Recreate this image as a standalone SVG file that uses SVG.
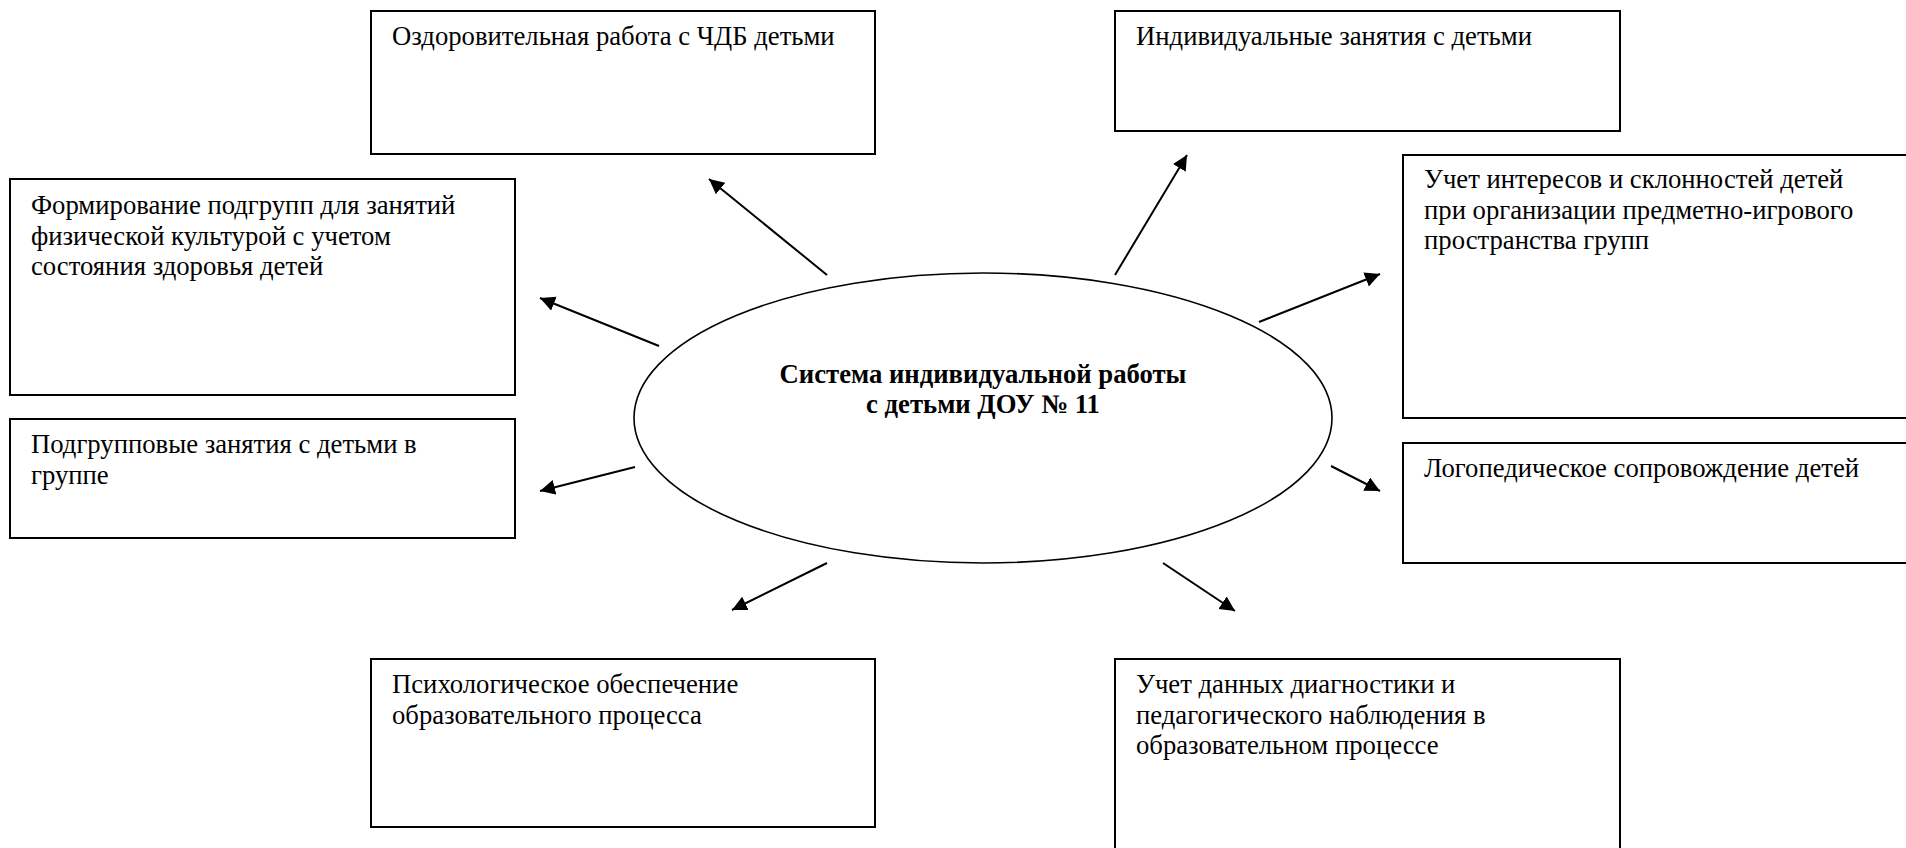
<svg xmlns="http://www.w3.org/2000/svg" width="1906" height="848" viewBox="0 0 1906 848">
  <style>
    .box { fill: #ffffff; stroke: #000000; stroke-width: 2; }
    .lbl { font-family: "Liberation Serif", "Times New Roman", serif; font-size: 26.7px; fill: #000000; }
    .title { font-family: "Liberation Serif", "Times New Roman", serif; font-size: 26.7px; font-weight: bold; fill: #000000; text-anchor: middle; }
    .conn { stroke: #000000; stroke-width: 2; fill: none; marker-end: url(#arrow); }
  </style>
  <defs>
    <marker id="arrow" markerUnits="userSpaceOnUse" markerWidth="16" markerHeight="16" refX="15" refY="7.5" orient="auto" viewBox="0 0 16 16">
      <path d="M0,0 L15,7.5 L0,15 z" fill="#000000"/>
    </marker>
  </defs>
  <rect width="1906" height="848" fill="#ffffff"/>

  <g id="center">
    <ellipse cx="983" cy="418" rx="349" ry="145" fill="#ffffff" stroke="#000000" stroke-width="1.6"/>
    <text class="title" x="983" y="383">Система индивидуальной работы</text>
    <text class="title" x="983" y="413">с детьми ДОУ № 11</text>
  </g>

  <g id="box-health">
    <rect class="box" x="371" y="11" width="504" height="143"/>
    <text class="lbl" x="392" y="45">Оздоровительная работа с ЧДБ детьми</text>
  </g>

  <g id="box-individual">
    <rect class="box" x="1115" y="11" width="505" height="120"/>
    <text class="lbl" x="1136" y="45">Индивидуальные занятия с детьми</text>
  </g>

  <g id="box-subgroups-pe">
    <rect class="box" x="10" y="179" width="505" height="216"/>
    <text class="lbl" x="31" y="214">Формирование подгрупп для занятий</text>
    <text class="lbl" x="31" y="244.5">физической культурой с учетом</text>
    <text class="lbl" x="31" y="275">состояния здоровья детей</text>
  </g>

  <g id="box-subgroup-lessons">
    <rect class="box" x="10" y="419" width="505" height="119"/>
    <text class="lbl" x="31" y="453">Подгрупповые занятия с детьми в</text>
    <text class="lbl" x="31" y="484">группе</text>
  </g>

  <g id="box-interests">
    <rect class="box" x="1403" y="155" width="530" height="263"/>
    <text class="lbl" x="1424" y="188">Учет интересов и склонностей детей</text>
    <text class="lbl" x="1424" y="218.5">при организации предметно-игрового</text>
    <text class="lbl" x="1424" y="249">пространства групп</text>
  </g>

  <g id="box-speech">
    <rect class="box" x="1403" y="443" width="530" height="120"/>
    <text class="lbl" x="1424" y="477">Логопедическое сопровождение детей</text>
  </g>

  <g id="box-psych">
    <rect class="box" x="371" y="659" width="504" height="168"/>
    <text class="lbl" x="392" y="693">Психологическое обеспечение</text>
    <text class="lbl" x="392" y="724">образовательного процесса</text>
  </g>

  <g id="box-diagnostics">
    <rect class="box" x="1115" y="659" width="505" height="240"/>
    <text class="lbl" x="1136" y="693">Учет данных диагностики и</text>
    <text class="lbl" x="1136" y="723.5">педагогического наблюдения в</text>
    <text class="lbl" x="1136" y="754">образовательном процессе</text>
  </g>

  <g id="connectors">
    <line class="conn" x1="827" y1="275" x2="709" y2="179"/>
    <line class="conn" x1="659" y1="346" x2="540" y2="298"/>
    <line class="conn" x1="635" y1="467" x2="540" y2="491"/>
    <line class="conn" x1="827" y1="563" x2="732" y2="610"/>
    <line class="conn" x1="1115" y1="275" x2="1187" y2="155"/>
    <line class="conn" x1="1259" y1="322" x2="1380" y2="274"/>
    <line class="conn" x1="1331" y1="466" x2="1380" y2="491"/>
    <line class="conn" x1="1163" y1="563" x2="1235" y2="611"/>
  </g>
</svg>
